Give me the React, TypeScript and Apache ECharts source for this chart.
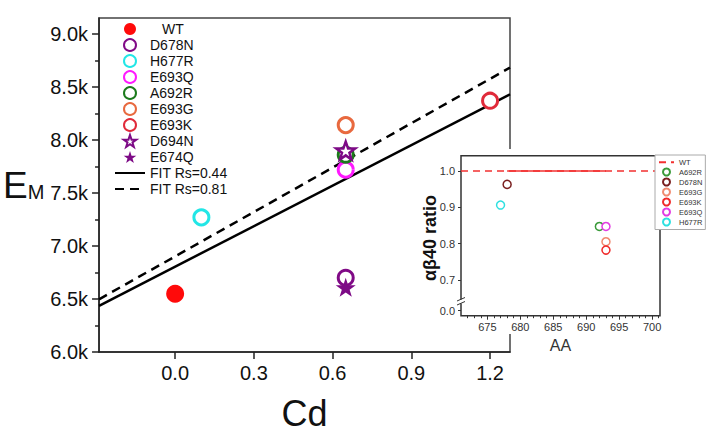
import React, { useEffect, useRef } from "react";
import * as echarts from "echarts";

// ---------- main plot data ----------
const mainYTicks = [6.0, 6.5, 7.0, 7.5, 8.0, 8.5, 9.0];
const mainYMinorTicks = [6.25, 6.75, 7.25, 7.75, 8.25, 8.75];
const mainXTicks = [0.0, 0.3, 0.6, 0.9, 1.2];

const wt = [[0.0, 6.55]];
const d678n = [[0.65, 6.7]];
const h677r = [[0.1, 7.27]];
const e693q = [[0.65, 7.72]];
const a692r = [[0.65, 7.86]];
const e693g = [[0.65, 8.14]];
const e693k = [[1.2, 8.37]];
const d694n = [[0.65, 7.9]];
const e674q = [[0.65, 6.61]];
const fit044 = [[-0.29, 6.435], [1.276, 8.431]];
const fit081 = [[-0.29, 6.497], [1.276, 8.682]];

// ---------- inset data ----------
const insetYTicks = [0.7, 0.8, 0.9, 1.0];
const insetYLowTicks = [0.0];
const insetXTicks = [675, 680, 685, 690, 695, 700];
const insetWTDashed = [[671, 1.0], [701.2, 1.0]];
const insetWTSolid = [[678, 1.0], [693, 1.0]];
const insetA692R = [[692, 0.847]];
const insetD678N = [[678, 0.963]];
const insetE693G = [[693, 0.805]];
const insetE693K = [[693, 0.782]];
const insetE693Q = [[693, 0.847]];
const insetH677R = [[677, 0.906]];

const FONT = "'Liberation Sans', Arial, sans-serif";
const STAR =
  "path://M50,0 L61.8,35.1 L98.1,35.1 L68.8,56.8 L79.4,91 L50,70 L20.6,91 L31.2,56.8 L1.9,35.1 L38.2,35.1 Z";

const insetMinor: number[] = [];
for (let v = 672; v <= 701; v++) if (v % 5 !== 0) insetMinor.push(v);

function openCircle(name: string, data: number[][], color: string) {
  return {
    name,
    type: "scatter",
    xAxisIndex: 0,
    yAxisIndex: 0,
    data,
    symbol: "circle",
    symbolSize: 15,
    itemStyle: { color: "#fff", borderColor: color, borderWidth: 3, opacity: 1 },
    z: 2,
  };
}

function insetCircle(name: string, data: number[][], color: string) {
  return {
    name: "inset:" + name,
    type: "scatter",
    xAxisIndex: 1,
    yAxisIndex: 2,
    data,
    symbol: "circle",
    symbolSize: 8,
    itemStyle: { color: "#fff", borderColor: color, borderWidth: 1.5, opacity: 1 },
    z: 6,
  };
}

export default function App() {
  const ref = useRef<HTMLDivElement>(null);
  useEffect(() => {
    document.body.style.margin = "0";
    const chart = echarts.init(ref.current!, null, { renderer: "svg" });
    const option: any = {
      animation: false,
      backgroundColor: "#fff",
      textStyle: { fontFamily: FONT },
      grid: [
        {
          left: 96, top: 18, width: 414, height: 334,
          show: true, borderColor: "#444", borderWidth: 1.5,
          backgroundColor: "transparent", containLabel: false,
        },
        { left: 461, top: 155.7, width: 199, height: 145.2, containLabel: false },
        { left: 461, top: 303, width: 199, height: 12.7, containLabel: false },
      ],
      xAxis: [
        {
          type: "value", gridIndex: 0, min: -0.29, max: 1.276, position: "bottom",
          axisLine: { show: true, onZero: false, lineStyle: { color: "#222", width: 1.5 } },
          axisTick: { show: true, length: 7, customValues: mainXTicks, lineStyle: { color: "#222", width: 1.5 } },
          axisLabel: {
            customValues: mainXTicks, fontSize: 20, color: "#111", margin: 11,
            formatter: (v: number) => v.toFixed(1),
          },
          splitLine: { show: false },
          name: "Cd", nameLocation: "middle", nameGap: 43,
          nameTextStyle: { fontSize: 36, color: "#111" },
        },
        {
          type: "value", gridIndex: 1, min: 671, max: 701.2, show: false,
          axisLine: { onZero: false },
        },
        {
          type: "value", gridIndex: 2, min: 671, max: 701.2, z: 5, position: "bottom",
          axisLine: { show: false, onZero: false },
          axisTick: { show: true, length: 4, customValues: insetXTicks, lineStyle: { color: "#333", width: 1 } },
          axisLabel: { customValues: insetXTicks, fontSize: 11, color: "#333", margin: 6 },
          splitLine: { show: false },
          name: "AA", nameLocation: "middle", nameGap: 22,
          nameTextStyle: { fontSize: 16, color: "#333" },
        },
        {
          type: "value", gridIndex: 2, min: 671, max: 701.2, z: 5, position: "bottom",
          axisLine: { show: false, onZero: false },
          axisTick: { show: true, length: 2.5, customValues: insetMinor, lineStyle: { color: "#333", width: 1 } },
          axisLabel: { show: false },
          splitLine: { show: false },
        },
      ],
      yAxis: [
        {
          type: "value", gridIndex: 0, min: 6.0, max: 9.15, position: "left",
          axisLine: { show: true, onZero: false, lineStyle: { color: "#222", width: 1.5 } },
          axisTick: { show: true, length: 7, customValues: mainYTicks, lineStyle: { color: "#222", width: 1.5 } },
          axisLabel: {
            customValues: mainYTicks, fontSize: 20, color: "#111", margin: 11,
            formatter: (v: number) => v.toFixed(1) + "k",
          },
          splitLine: { show: false },
          name: "{e|E}{m|M}", nameLocation: "middle", nameRotate: 0, nameGap: 41,
          nameTextStyle: {
            color: "#111",
            rich: {
              e: { fontSize: 37, color: "#111", fontFamily: FONT },
              m: { fontSize: 20, color: "#111", fontFamily: FONT, padding: [14, 0, 0, 0] },
            },
          },
        },
        {
          type: "value", gridIndex: 0, min: 6.0, max: 9.15, position: "left",
          axisLine: { show: false, onZero: false },
          axisTick: { show: true, length: 4, customValues: mainYMinorTicks, lineStyle: { color: "#222", width: 1.5 } },
          axisLabel: { show: false },
          splitLine: { show: false },
        },
        {
          type: "value", gridIndex: 1, min: 0.642, max: 1.042, z: 5, position: "left",
          axisLine: { show: false, onZero: false },
          axisTick: { show: true, length: 3, customValues: insetYTicks, lineStyle: { color: "#333", width: 1 } },
          axisLabel: {
            customValues: insetYTicks, fontSize: 11, color: "#333", margin: 6,
            formatter: (v: number) => v.toFixed(1),
          },
          splitLine: { show: false },
        },
        {
          type: "value", gridIndex: 2, min: -0.0138, max: 0.0212, z: 5, position: "left",
          axisLine: { show: false, onZero: false },
          axisTick: { show: true, length: 3, customValues: insetYLowTicks, lineStyle: { color: "#333", width: 1 } },
          axisLabel: {
            customValues: insetYLowTicks, fontSize: 11, color: "#333", margin: 6,
            formatter: (v: number) => v.toFixed(1),
          },
          splitLine: { show: false },
        },
      ],
      legend: [
        {
          left: 114, top: 21, orient: "vertical",
          itemWidth: 30, itemHeight: 12, itemGap: 0,
          data: [
            "WT", "D678N", "H677R", "E693Q", "A692R", "E693G", "E693K", "D694N", "E674Q",
            { name: "FIT Rs=0.44", itemStyle: { opacity: 0 } },
            { name: "FIT Rs=0.81", itemStyle: { opacity: 0 } },
          ],
          formatter: (n: string) => (n === "WT" ? "{wt|WT}" : n),
          textStyle: {
            fontSize: 14, color: "#111", lineHeight: 16, fontFamily: FONT,
            rich: { wt: { fontSize: 14, color: "#111", padding: [0, 0, 0, 12], fontFamily: FONT } },
          },
          selectedMode: false,
          padding: 0,
        },
        {
          left: 655, top: 155, orient: "vertical",
          itemWidth: 15, itemHeight: 7, itemGap: 1,
          data: [
            { name: "inset:WT", itemStyle: { opacity: 0 } },
            "inset:A692R", "inset:D678N", "inset:E693G", "inset:E693K", "inset:E693Q", "inset:H677R",
          ],
          formatter: (n: string) => n.replace("inset:", ""),
          textStyle: { fontSize: 7.5, color: "#333", lineHeight: 8.5, fontFamily: FONT },
          backgroundColor: "#fff", borderColor: "#aaa", borderWidth: 1,
          padding: [3, 3, 3, 3],
          selectedMode: false,
          z: 8,
        },
      ],
      graphic: [
        { type: "rect", z: 3, shape: { x: 410, y: 149, width: 296, height: 185 }, style: { fill: "#fff" } },
        {
          type: "rect", z: 3, shape: { x: 461, y: 155.7, width: 199, height: 160 },
          style: { fill: "none", stroke: "#333", lineWidth: 1.5 },
        },
        { type: "rect", z: 3, shape: { x: 456, y: 299.5, width: 9, height: 4 }, style: { fill: "#fff" } },
        { type: "line", z: 3, shape: { x1: 457, y1: 301, x2: 465, y2: 297.5 }, style: { stroke: "#333", lineWidth: 1 } },
        { type: "line", z: 3, shape: { x1: 457, y1: 305, x2: 465, y2: 301.5 }, style: { stroke: "#333", lineWidth: 1 } },
        {
          type: "text", z: 4, x: 430, y: 238, rotation: Math.PI / 2,
          style: {
            text: "αβ40 ratio", fontSize: 18, fontWeight: "bold", fill: "#111",
            fontFamily: FONT, align: "center", verticalAlign: "middle",
          },
        },
      ],
      series: [
        {
          name: "FIT Rs=0.44", type: "line", xAxisIndex: 0, yAxisIndex: 0, data: fit044,
          showSymbol: false, symbol: "none", itemStyle: { color: "#000" },
          lineStyle: { color: "#000", width: 2.5 }, z: 1,
        },
        {
          name: "FIT Rs=0.81", type: "line", xAxisIndex: 0, yAxisIndex: 0, data: fit081,
          showSymbol: false, symbol: "none", itemStyle: { color: "#000" },
          lineStyle: { color: "#000", width: 2.5, type: [9, 6] }, z: 1,
        },
        {
          name: "WT", type: "scatter", xAxisIndex: 0, yAxisIndex: 0, data: wt,
          symbol: "circle", symbolSize: 18, itemStyle: { color: "#ff0a0a", opacity: 1 }, z: 2,
        },
        openCircle("H677R", h677r, "#22e6e6"),
        openCircle("E693G", e693g, "#e8693f"),
        openCircle("E693Q", e693q, "#ff19ff"),
        openCircle("A692R", a692r, "#1b7a1b"),
        openCircle("E693K", e693k, "#e02a3a"),
        openCircle("D678N", d678n, "#800a86"),
        {
          name: "E674Q", type: "scatter", xAxisIndex: 0, yAxisIndex: 0, data: e674q,
          symbol: STAR, symbolSize: 20, symbolKeepAspect: true,
          itemStyle: { color: "#7d0a86", opacity: 1 }, z: 2,
        },
        {
          name: "D694N", type: "scatter", xAxisIndex: 0, yAxisIndex: 0, data: d694n,
          symbol: STAR, symbolSize: 19, symbolKeepAspect: true,
          itemStyle: { color: "#fff", borderColor: "#7d0a86", borderWidth: 2.5, opacity: 1 }, z: 2,
        },
        // inset
        {
          name: "inset:WT", type: "line", xAxisIndex: 1, yAxisIndex: 2, data: insetWTDashed,
          showSymbol: false, symbol: "none", itemStyle: { color: "#f23030" },
          lineStyle: { color: "#f23030", width: 1.5, type: [7, 5] }, z: 5,
        },
        {
          name: "inset:WT", type: "line", xAxisIndex: 1, yAxisIndex: 2, data: insetWTSolid,
          showSymbol: false, symbol: "none", itemStyle: { color: "#f23030" },
          lineStyle: { color: "#f23030", width: 1.5 }, z: 5,
        },
        insetCircle("A692R", insetA692R, "#3a9a3a"),
        insetCircle("D678N", insetD678N, "#7a1f1f"),
        insetCircle("E693G", insetE693G, "#f08a70"),
        insetCircle("E693K", insetE693K, "#f02a2a"),
        insetCircle("E693Q", insetE693Q, "#e23ce2"),
        insetCircle("H677R", insetH677R, "#2ee0e0"),
      ],
    };
    chart.setOption(option);
    return () => chart.dispose();
  }, []);
  return <div ref={ref} style={{ width: 714, height: 444 }} />;
}
